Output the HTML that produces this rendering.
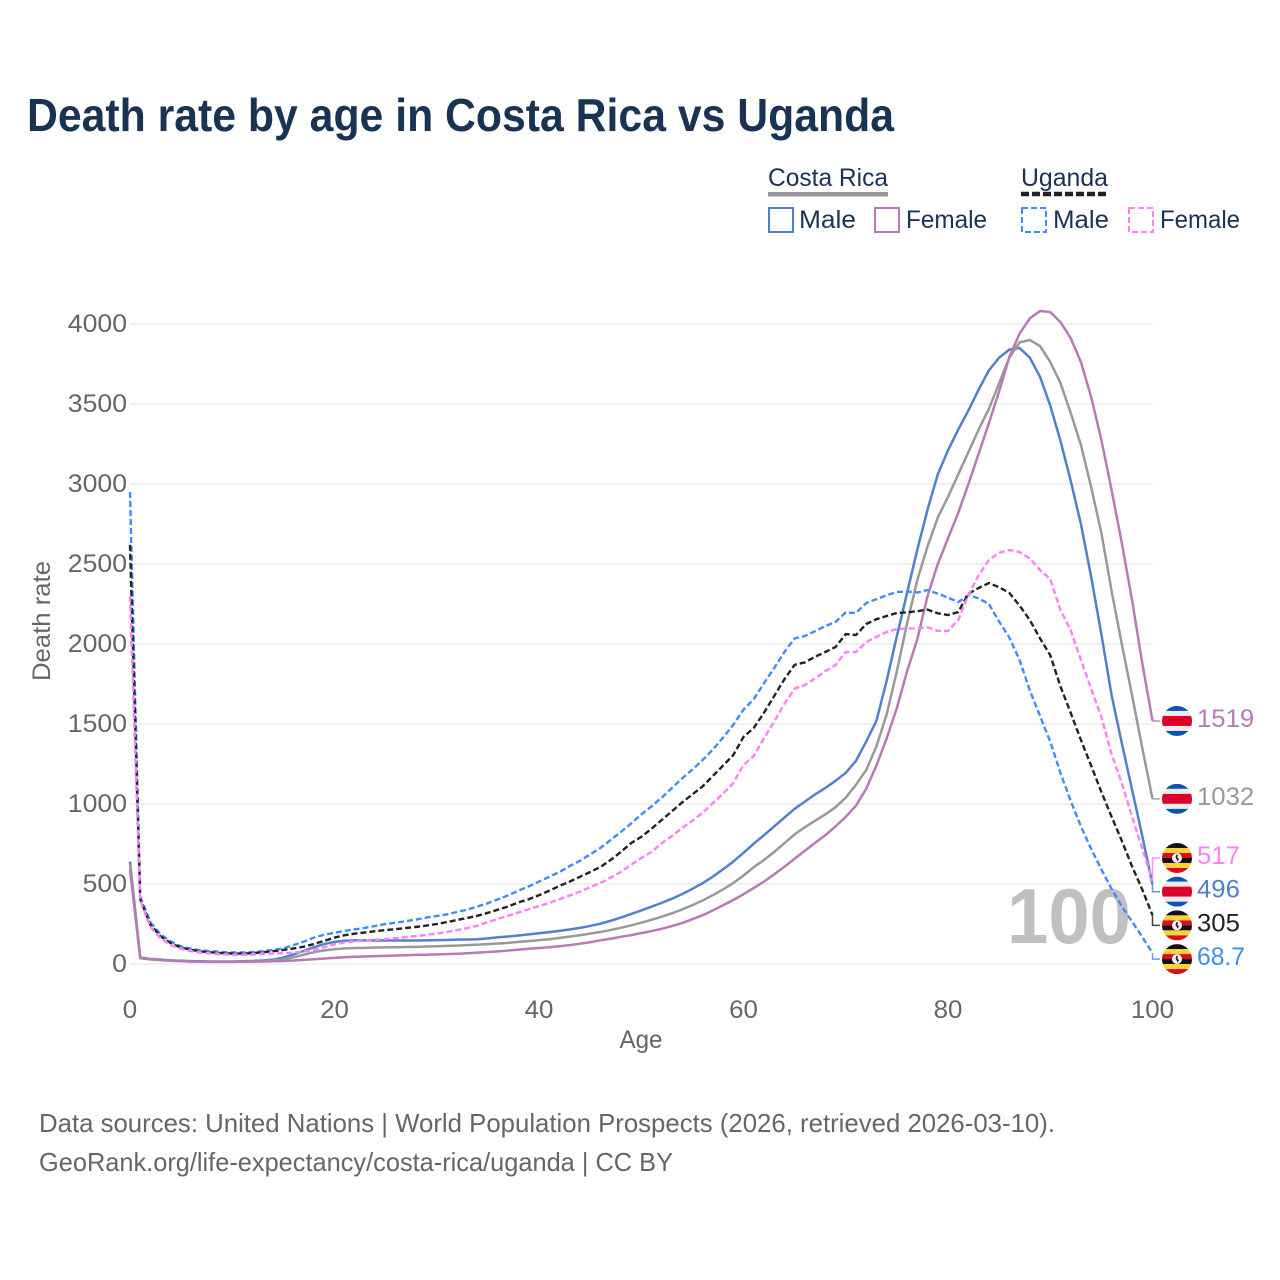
<!DOCTYPE html>
<html lang="en">
<head>
<meta charset="utf-8">
<title>Death rate by age in Costa Rica vs Uganda</title>
<style>
html,body{margin:0;padding:0;background:#fff;}
svg{display:block;}
text{font-family:"Liberation Sans",sans-serif;}
</style>
</head>
<body>
<svg id="chart" xmlns="http://www.w3.org/2000/svg" width="1280" height="1280" viewBox="0 0 1280 1280">
  <defs><clipPath id="flag-clip"><circle cx="0" cy="0" r="15"></circle></clipPath></defs>
  <rect x="0" y="0" width="1280" height="1280" fill="#ffffff"></rect>
  <text x="27" y="131" font-size="46" font-weight="700" fill="#1a3353" textLength="867" lengthAdjust="spacingAndGlyphs">Death rate by age in Costa Rica vs Uganda</text>

  <g font-size="25" fill="#1a3353">
    <text x="768" y="186" textLength="120" lengthAdjust="spacingAndGlyphs">Costa Rica</text>
    <rect x="768" y="192" width="120" height="4.5" fill="#999999"></rect>
    <rect x="769" y="208" width="24" height="24" fill="none" stroke="#5081c9" stroke-width="2"></rect>
    <text x="799" y="228" textLength="57" lengthAdjust="spacingAndGlyphs">Male</text>
    <rect x="875" y="208" width="24" height="24" fill="none" stroke="#b87ab6" stroke-width="2"></rect>
    <text x="906" y="228" textLength="81" lengthAdjust="spacingAndGlyphs">Female</text>

    <text x="1021" y="186" textLength="87" lengthAdjust="spacingAndGlyphs">Uganda</text>
    <line x1="1021" y1="194" x2="1108" y2="194" stroke="#222222" stroke-width="4.5" stroke-dasharray="8 3"></line>
    <rect x="1022" y="208" width="24" height="24" fill="none" stroke="#3f8cff" stroke-width="2" stroke-dasharray="6 3"></rect>
    <text x="1053" y="228" textLength="56" lengthAdjust="spacingAndGlyphs">Male</text>
    <rect x="1129" y="208" width="24" height="24" fill="none" stroke="#ff80f2" stroke-width="2" stroke-dasharray="6 3"></rect>
    <text x="1160" y="228" textLength="80" lengthAdjust="spacingAndGlyphs">Female</text>
  </g>

  <g id="grid"></g>
  <g id="yticks" font-size="25" fill="#666666"></g>
  <g id="xticks" font-size="25" fill="#666666"></g>
  <text transform="translate(50,621) rotate(-90)" text-anchor="middle" font-size="25" fill="#666666" textLength="120" lengthAdjust="spacingAndGlyphs">Death rate</text>
  <text x="641" y="1048" text-anchor="middle" font-size="25" fill="#666666" textLength="43" lengthAdjust="spacingAndGlyphs">Age</text>
  <text x="1131" y="943" text-anchor="end" font-size="78" font-weight="700" fill="#c0c0c0" textLength="124" lengthAdjust="spacingAndGlyphs">100</text>

  <g id="series"></g>
  <g id="ends"></g>

  <text x="39" y="1132" font-size="26" fill="#666666" textLength="1016" lengthAdjust="spacingAndGlyphs">Data sources: United Nations | World Population Prospects (2026, retrieved 2026-03-10).</text>
  <text x="39" y="1171" font-size="26" fill="#666666" textLength="634" lengthAdjust="spacingAndGlyphs">GeoRank.org/life-expectancy/costa-rica/uganda | CC BY</text>
</svg>
<script>
var yTicks = [0, 500, 1000, 1500, 2000, 2500, 3000, 3500, 4000];
var xTicks = [0, 20, 40, 60, 80, 100];
var ages = [];
for (var a = 0; a <= 100; a++) { ages.push(a); }

var crMale = [640,40,32,27,23,20,18,17,16,16,16,17,19,22,27,40,60,82,105,125,138,145,148,148,147,147,147,147,147,148,149,150,152,153,155,160,167,172,178,185,192,199,207,216,226,238,252,270,290,312,335,358,382,408,437,470,505,546,592,640,695,752,805,860,915,970,1015,1060,1100,1145,1195,1270,1390,1520,1770,2050,2320,2590,2840,3060,3210,3340,3460,3590,3710,3790,3840,3850,3790,3670,3490,3270,3020,2750,2420,2060,1680,1380,1090,800,496];
var crBoth = [625,38,30,25,21,18,16,15,14,14,14,15,16,18,21,30,42,58,74,85,92,98,100,101,103,104,105,106,107,109,111,113,115,118,121,124,128,132,138,143,149,155,163,171,180,190,200,212,226,241,258,276,296,317,341,368,397,430,466,506,553,605,650,700,755,810,855,895,935,980,1040,1120,1212,1360,1560,1830,2130,2400,2610,2790,2920,3060,3200,3340,3470,3630,3790,3885,3900,3862,3762,3631,3444,3244,2981,2694,2330,2000,1680,1350,1032];
var crFemale = [590,36,29,24,20,18,16,14,13,13,13,14,15,16,17,19,22,26,30,34,38,42,45,47,49,51,53,55,57,58,60,62,64,67,71,75,79,84,90,95,100,105,111,118,127,136,148,158,170,180,193,206,220,237,256,280,305,335,367,400,436,475,515,560,608,658,708,757,805,860,920,990,1095,1240,1410,1600,1830,2030,2300,2500,2660,2820,3000,3190,3380,3580,3794,3940,4035,4081,4075,4012,3912,3762,3544,3275,2962,2631,2275,1880,1519];
var ugMale = [2950,420,260,185,140,110,95,85,80,75,72,72,75,80,88,98,118,140,165,183,195,207,217,226,238,250,258,268,278,290,300,310,325,340,360,380,405,430,458,485,515,545,575,612,645,685,725,775,825,878,935,985,1040,1100,1160,1215,1275,1340,1415,1495,1590,1655,1755,1850,1950,2035,2050,2080,2112,2137,2198,2194,2256,2280,2305,2325,2328,2322,2337,2315,2290,2262,2306,2285,2250,2140,2040,1900,1710,1550,1390,1194,1020,860,720,590,470,360,265,169,68.7];
var ugBoth = [2620,405,245,172,130,102,88,78,72,68,65,65,68,73,80,88,97,108,125,145,165,180,190,197,205,212,218,225,232,240,250,262,275,288,302,320,340,360,385,405,430,458,488,515,545,575,606,650,700,755,795,845,900,955,1010,1060,1110,1175,1240,1306,1419,1475,1570,1675,1780,1870,1885,1920,1950,1981,2062,2056,2125,2155,2175,2194,2198,2205,2215,2192,2181,2200,2315,2350,2381,2355,2319,2240,2150,2035,1930,1735,1570,1400,1240,1075,920,770,610,465,305];
var ugFemale = [2300,395,232,160,118,95,80,70,65,60,57,57,59,63,66,68,70,78,88,105,122,135,142,147,151,156,162,168,175,182,190,200,212,225,240,262,282,302,322,342,362,382,405,428,452,480,506,540,575,620,662,700,755,800,850,895,945,1005,1065,1131,1244,1300,1410,1515,1625,1722,1744,1785,1830,1869,1950,1950,2012,2045,2075,2094,2096,2098,2105,2082,2081,2150,2306,2430,2525,2570,2587,2575,2535,2462,2406,2212,2087,1900,1720,1544,1310,1130,920,720,517];

var seriesKeys = ['cr-male', 'cr-both', 'cr-female', 'ug-male', 'ug-both', 'ug-female'];
var seriesValues = [crMale, crBoth, crFemale, ugMale, ugBoth, ugFemale];
var seriesColors = ['#5081c9', '#999999', '#b87ab6', '#3f8cff', '#222222', '#ff80f2'];
var seriesFlags = ['cr', 'cr', 'cr', 'ug', 'ug', 'ug'];

var SVGNS = 'http://www.w3.org/2000/svg';
function xScale(age) { return 130 + age * 10.225; }
function yScale(v) { return 964 - v * 0.16; }
function mk(parent, tag, attrs) {
  var el = document.createElementNS(SVGNS, tag);
  for (var k in attrs) { el.setAttribute(k, attrs[k]); }
  parent.appendChild(el);
  return el;
}
var gridG = document.getElementById('grid');
var yG = document.getElementById('yticks');
var xG = document.getElementById('xticks');
var seriesG = document.getElementById('series');
var endsG = document.getElementById('ends');

yTicks.forEach(function (t) {
  var line = mk(gridG, 'line', { x1: 130, x2: 1152.5, y1: yScale(t), y2: yScale(t), stroke: '#ebebeb', 'stroke-width': 1.5 });
  
  
  var label = mk(yG, 'text', { x: 127, y: yScale(t) + 8, 'text-anchor': 'end', textLength: String(t).length * 14.8, lengthAdjust: 'spacingAndGlyphs' });
  
  
  label.textContent = t;
});
xTicks.forEach(function (t) {
  var label = mk(xG, 'text', { x: xScale(t), y: 1018, 'text-anchor': 'middle', textLength: String(t).length * 14.4, lengthAdjust: 'spacingAndGlyphs' });
  
  
  label.textContent = t;
});

seriesValues.forEach(function (vals, i) {
  var d = vals.map(function (v, j) { return (j ? 'L' : 'M') + xScale(ages[j]).toFixed(2) + ' ' + yScale(v).toFixed(2); }).join(' ');
  var attrs = { d: d, fill: 'none', stroke: seriesColors[i], 'stroke-width': seriesFlags[i] === 'ug' ? 2.4 : 2.5, 'stroke-linejoin': 'round' };
  if (seriesFlags[i] === 'ug') { attrs['stroke-dasharray'] = '6 3'; }
  var path = mk(seriesG, 'path', attrs);
  
  
});

/* stack end labels: overlapping labels form a centred column */
var ROW = 33.7;
var order = seriesValues.map(function (vals, i) { return { i: i, y: yScale(vals[vals.length - 1]) }; });
order.sort(function (p, q) { return p.y - q.y; });
var clusters = order.map(function (o) { return { items: [o], c: o.y }; });
var merged = true;
while (merged) {
  merged = false;
  for (var n = 0; n < clusters.length - 1; n++) {
    var A = clusters[n], B = clusters[n + 1];
    if (A.c + (A.items.length - 1) * ROW / 2 + ROW > B.c - (B.items.length - 1) * ROW / 2) {
      var items = A.items.concat(B.items);
      var sum = 0;
      items.forEach(function (o) { sum += o.y; });
      clusters.splice(n, 2, { items: items, c: sum / items.length });
      merged = true;
      break;
    }
  }
}
clusters.forEach(function (cl) {
  cl.items.forEach(function (o, idx) {
    o.row = cl.c + (idx - (cl.items.length - 1) / 2) * ROW;
  });
});

function drawFlag(parent, kind, cy) {
  var g = mk(parent, 'g', { transform: 'translate(1177 ' + cy + ')', 'clip-path': 'url(#flag-clip)' });
  
  
  var bands = kind === 'cr'
    ? [['#0a52b5', 5], ['#ececec', 5], ['#dc0028', 10], ['#ececec', 5], ['#0a52b5', 5]]
    : [['#111111', 5], ['#fcd13a', 5], ['#d80e20', 5], ['#111111', 5], ['#fcd13a', 5], ['#d80e20', 5]];
  var top = -15;
  bands.forEach(function (b) {
    mk(g, 'rect', { x: -15, y: top, width: 30, height: b[1], fill: b[0] });
    top += b[1];
  });
  if (kind === 'ug') {
    mk(g, 'circle', { cx: 0, cy: 0, r: 5, fill: '#f2f2f2' });
    mk(g, 'path', { d: 'M-.5 -3.5 L1 -3 L.3 -.5 L2 1 L.5 3.5 L-.5 1 L-1.5 -.5 Z', fill: '#222222' });
  }
}

order.forEach(function (o) {
  var i = o.i;
  var vals = seriesValues[i];
  var last = vals[vals.length - 1];
  var link = mk(endsG, 'path', { d: 'M1152.5 ' + o.y.toFixed(1) + ' L1152.5 ' + o.row.toFixed(1) + ' L1160 ' + o.row.toFixed(1), fill: 'none', stroke: seriesColors[i], 'stroke-width': 1.5, opacity: 0.85 });
  
  
  drawFlag(endsG, seriesFlags[i], o.row);
  var str = last >= 100 ? String(Math.round(last)) : last.toFixed(1);
  var label = mk(endsG, 'text', { x: 1197, y: o.row + 6, 'font-size': 25, fill: seriesColors[i], textLength: str.length === 4 && str.indexOf('.') > 0 ? 48 : str.length * 14.3, lengthAdjust: 'spacingAndGlyphs' });
  
  
  label.textContent = str;
});
</script>
</body>
</html>
